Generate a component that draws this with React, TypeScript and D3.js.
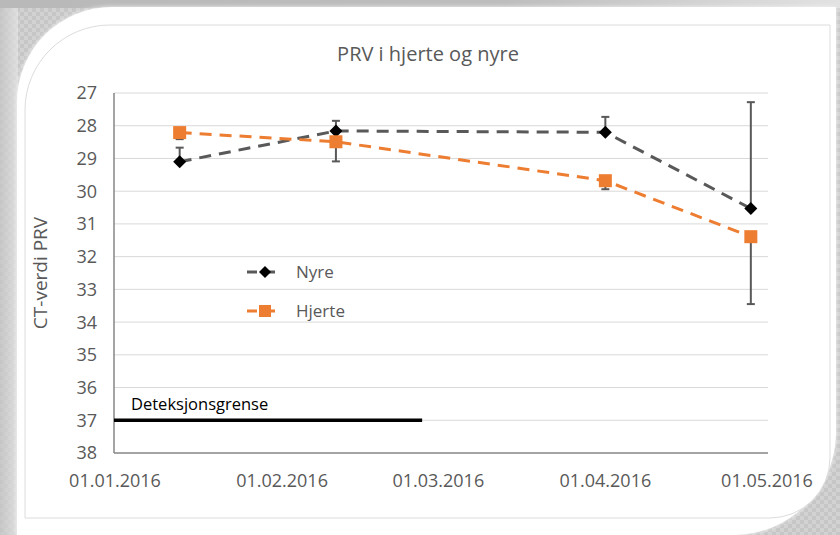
import React from 'react';
import * as d3 from 'd3';

const sampleDates = ['2016-01-13', '2016-02-11', '2016-04-01', '2016-04-28'];
const nyreValues = [29.1, 28.16, 28.2, 30.53];
const nyreErrors = [0.43, 0.31, 0.47, 3.25];
const hjerteValues = [28.21, 28.49, 29.68, 31.39];
const hjerteErrors = [0.2, 0.6, 0.26, 2.06];
const yTicks = [27, 28, 29, 30, 31, 32, 33, 34, 35, 36, 37, 38];
const xTickDates = ['2016-01-01', '2016-02-01', '2016-03-01', '2016-04-01', '2016-05-01'];
const xTickLabels = ['01.01.2016', '01.02.2016', '01.03.2016', '01.04.2016', '01.05.2016'];
const detectionLimit = 37;
const detectionStart = '2016-01-01';
const detectionEnd = '2016-02-27';
const seriesNames = ['Nyre', 'Hjerte'];
const title = 'PRV i hjerte og nyre';
const yTitle = 'CT-verdi PRV';
const detectionLabel = 'Deteksjonsgrense';

const W = 840;
const H = 535;
const FONT = "'Open Sans', sans-serif";
const parse = d3.timeParse('%Y-%m-%d');

export default function App() {
  const x = d3.scaleTime().domain([parse(xTickDates[0])!, parse(xTickDates[xTickDates.length - 1])!]).range([115, 767]);
  const y = d3.scaleLinear().domain([27, 38]).range([93, 453]);
  const plotL = 114;
  const plotR = 768;
  const nyre = sampleDates.map((d, i) => ({ x: x(parse(d)!), y: y(nyreValues[i]), e: y(nyreValues[i] - nyreErrors[i]) }));
  const hjerte = sampleDates.map((d, i) => ({ x: x(parse(d)!), y: y(hjerteValues[i]), e: y(hjerteValues[i] + hjerteErrors[i]) }));
  const line = d3.line<{ x: number; y: number }>().x((d) => d.x).y((d) => d.y);
  const diamond = (cx: number, cy: number, r: number) => `M${cx},${cy - r}L${cx + r},${cy}L${cx},${cy + r}L${cx - r},${cy}Z`;

  const whiteShape = `M17,102 A95,95 0 0 1 112,7 L836,7 L836,432 A103,103 0 0 1 733,535 L17,535 Z`;
  const borderShape = `M25,110 A85,85 0 0 1 110,25 L830,25 L830,458 A60,60 0 0 1 770,518 L25,518 Z`;

  return (
    <svg width={W} height={H} style={{ position: 'absolute', left: 0, top: 0 }} fontFamily={FONT}>
      <defs>
        <linearGradient id="bgH" x1="0" x2="1" y1="0" y2="0">
          <stop offset="0" stopColor="#b9b9b9" />
          <stop offset="0.6" stopColor="#bdbdbd" />
          <stop offset="1" stopColor="#e2e2e2" />
        </linearGradient>
        <linearGradient id="leftG" x1="0" x2="1" y1="0" y2="0">
          <stop offset="0" stopColor="#c4c4c4" />
          <stop offset="1" stopColor="#e6e6e6" />
        </linearGradient>
        <pattern id="chk" width="8" height="8" patternUnits="userSpaceOnUse">
          <rect width="8" height="8" fill="#d2d2d2" />
          <rect width="4" height="4" fill="#c6c6c6" />
          <rect x="4" y="4" width="4" height="4" fill="#c6c6c6" />
        </pattern>
        <filter id="soft" x="-5%" y="-5%" width="110%" height="110%">
          <feGaussianBlur stdDeviation="2" />
        </filter>
      </defs>
      <rect x={0} y={0} width={W} height={H} fill="url(#chk)" />
      <rect x={0} y={0} width={W} height={8} fill="url(#bgH)" />
      <rect x={0} y={8} width={18} height={H} fill="url(#leftG)" opacity={0.7} />
      <path d={whiteShape} fill="#f4f4f4" filter="url(#soft)" />
      <path d={whiteShape} fill="#ffffff" />
      <path d={borderShape} fill="#ffffff" stroke="#dcdcdc" strokeWidth={1} />

      <text x={428} y={61} textAnchor="middle" fontSize={20} fill="#595959">{title}</text>

      {yTicks.slice(0, -1).map((t) => (
        <line key={t} x1={plotL} x2={plotR} y1={y(t)} y2={y(t)} stroke="#d9d9d9" strokeWidth={1} />
      ))}
      <line x1={plotL} x2={plotR} y1={y(38)} y2={y(38)} stroke="#868686" strokeWidth={1.5} />
      <line x1={plotL} x2={plotL} y1={y(27)} y2={y(38)} stroke="#868686" strokeWidth={1.5} />

      {yTicks.map((t) => (
        <text key={t} x={97} y={y(t)} dy="0.36em" textAnchor="end" fontSize={18} fill="#595959">{t}</text>
      ))}
      {xTickDates.map((d, i) => (
        <text key={d} x={x(parse(d)!)} y={487} textAnchor="middle" fontSize={18} fill="#595959">{xTickLabels[i]}</text>
      ))}
      <text transform={`translate(47,${y(32.5)}) rotate(-90)`} textAnchor="middle" fontSize={19} fill="#595959">{yTitle}</text>

      <line x1={x(parse(detectionStart)!) - 1} x2={x(parse(detectionEnd)!)} y1={y(detectionLimit)} y2={y(detectionLimit)} stroke="#000" strokeWidth={3.5} />
      <text x={131} y={410} fontSize={16.5} fill="#000">{detectionLabel}</text>

      {nyre.map((p, i) => (
        <g key={'ne' + i} stroke="#595959" strokeWidth={2}>
          <line x1={p.x} x2={p.x} y1={p.y} y2={p.e} />
          <line x1={p.x - 4} x2={p.x + 4} y1={p.e} y2={p.e} />
        </g>
      ))}
      {hjerte.map((p, i) => (
        <g key={'he' + i} stroke="#595959" strokeWidth={2}>
          <line x1={p.x} x2={p.x} y1={p.y} y2={p.e} />
          <line x1={p.x - 4} x2={p.x + 4} y1={p.e} y2={p.e} />
        </g>
      ))}

      <path d={line(nyre)!} fill="none" stroke="#595959" strokeWidth={3} strokeDasharray="12 8" />
      <path d={line(hjerte)!} fill="none" stroke="#ED7D31" strokeWidth={3} strokeDasharray="12 8" />
      {nyre.map((p, i) => (
        <path key={'nm' + i} d={diamond(p.x, p.y, 6.5)} fill="#000" />
      ))}
      {hjerte.map((p, i) => (
        <rect key={'hm' + i} x={p.x - 6.5} y={p.y - 6.5} width={13} height={13} fill="#ED7D31" />
      ))}

      <g>
        <line x1={247} x2={281} y1={272} y2={272} stroke="#595959" strokeWidth={3} strokeDasharray="10 8" />
        <path d={diamond(265, 272, 6)} fill="#000" />
        <text x={296} y={272} dy="0.36em" fontSize={17} fill="#595959">{seriesNames[0]}</text>
        <line x1={247} x2={281} y1={311} y2={311} stroke="#ED7D31" strokeWidth={3} strokeDasharray="10 8" />
        <rect x={259} y={305} width={12} height={12} fill="#ED7D31" />
        <text x={296} y={311} dy="0.36em" fontSize={17} fill="#595959">{seriesNames[1]}</text>
      </g>
    </svg>
  );
}
